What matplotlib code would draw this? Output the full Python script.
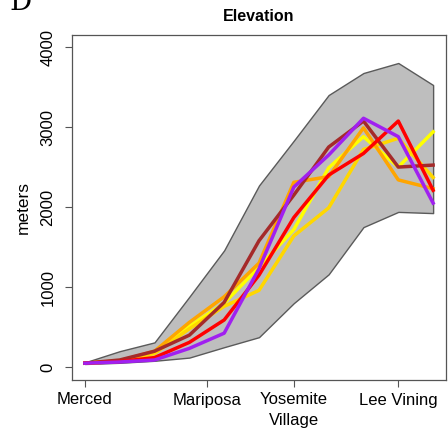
import matplotlib
matplotlib.use("Agg")
import matplotlib.pyplot as plt

plt.rcParams['font.family'] = ['Liberation Sans', 'DejaVu Sans']

# positions along the transect (sample index)
stations = [0, 1, 2, 3, 4, 5, 6, 7, 8, 9, 10]
tick_pos = [0, 3.5, 6, 9]
tick_labels = ["Merced", "Mariposa", "Yosemite\nVillage", "Lee Vining"]

# gray envelope
band_upper = [60, 200, 310, 880, 1460, 2270, 2830, 3400, 3675, 3800, 3525]
band_lower = [40, 55, 80, 120, 250, 375, 800, 1160, 1750, 1940, 1925]

# elevation series (meters)
yellow = [50, 75, 180, 510, 800, 1250, 1720, 2490, 2880, 2500, 2940]
gold = [50, 75, 170, 480, 760, 960, 1640, 1990, 2720, 2860, 2370]
orange = [50, 80, 200, 560, 880, 1300, 2310, 2380, 2990, 2340, 2230]
brown = [50, 90, 200, 400, 810, 1580, 2150, 2750, 3075, 2500, 2525]
red = [50, 70, 120, 310, 590, 1150, 1870, 2400, 2670, 3075, 2210]
purple = [50, 65, 90, 235, 425, 1230, 2250, 2650, 3110, 2880, 2050]

series = [
    (yellow, "#FFFF00"),
    (gold, "#FFD700"),
    (orange, "#FFA500"),
    (brown, "#A52A2A"),
    (red, "#FF0000"),
    (purple, "#A020F0"),
]

fig = plt.figure(figsize=(4.48, 4.30), dpi=100)
ax = fig.add_axes([72 / 448, 50 / 430, 374 / 448, 345 / 430])

ax.fill_between(stations, band_lower, band_upper, facecolor="#BEBEBE",
                edgecolor="#5A5A5A", linewidth=1.0, zorder=1)
for vals, col in series:
    ax.plot(stations, vals, color=col, linewidth=2.5, zorder=2)

ax.set_xlim(-0.37, 10.37)
ax.set_ylim(-160, 4150)

ax.set_xticks(tick_pos)
ax.set_xticklabels(tick_labels, fontsize=12, linespacing=1.45)
ax.set_yticks([0, 1000, 2000, 3000, 4000])
ax.set_yticklabels(["0", "1000", "2000", "3000", "4000"], fontsize=12,
                   rotation=90, va="center")
ax.tick_params(axis="x", length=5, width=0.8, color="#555555", pad=4)
ax.tick_params(axis="y", length=5, width=0.8, color="#555555", pad=7)
for s in ax.spines.values():
    s.set_color("#555555")
    s.set_linewidth(0.9)

ax.set_ylabel("meters", fontsize=12.5, labelpad=7)
ax.set_title("Elevation", fontsize=11.5, fontweight="bold", pad=10)

fig.text(0.045, 0.995, "D", fontsize=20, family="DejaVu Serif",
         ha="center", va="center")

fig.savefig("out.png", dpi=100)
